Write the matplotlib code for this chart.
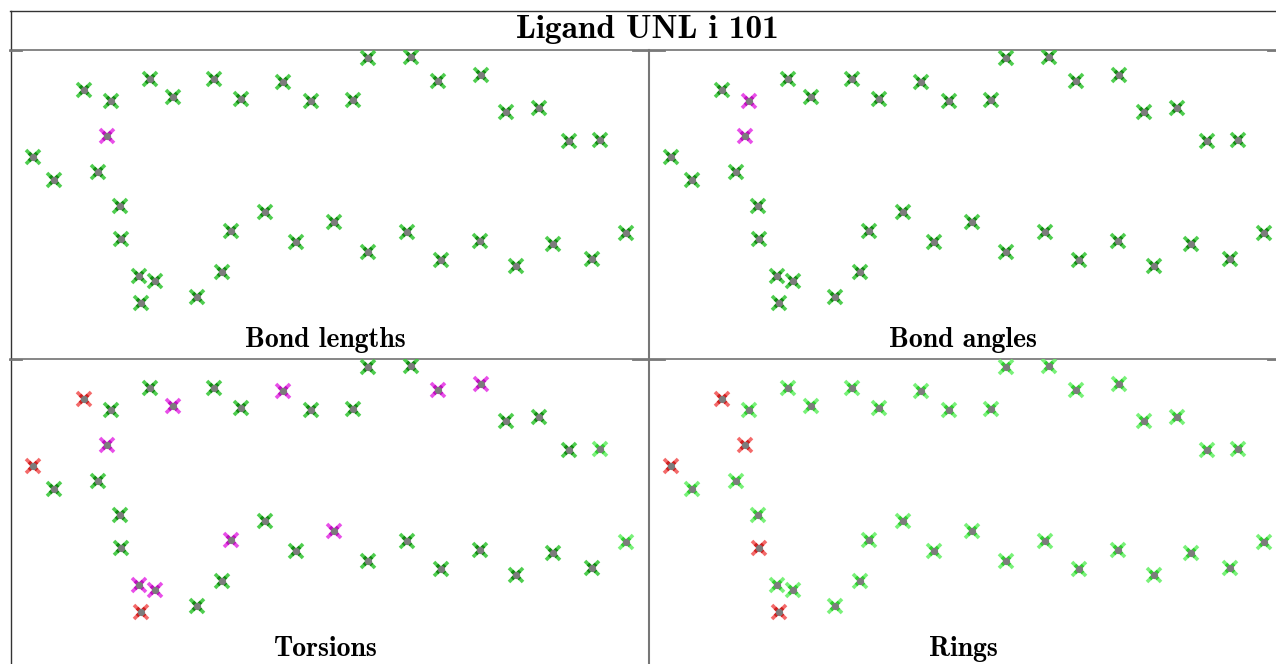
"""
Ligand UNL i 101: per-atom validation flags drawn on the 2D depiction,
one panel per geometry criterion.
"""

import matplotlib
matplotlib.use("Agg")
import matplotlib.pyplot as plt

W, H = 1276, 664

# 2D depiction coordinates of the 40 atoms (panel units, y downwards)
atom_x = [23, 44, 74, 88, 97, 101, 110, 111, 129, 131,
          140, 145, 163, 187, 204, 212, 221, 231, 255, 273,
          286, 301, 324, 343, 358, 358, 397, 401, 428, 431,
          470, 471, 496, 506, 529, 543, 559, 582, 590, 616]
atom_y = [107, 130, 40, 122, 86, 51, 156, 189, 226, 253,
          29, 231, 47, 247, 29, 222, 181, 49, 162, 32,
          192, 51, 172, 50, 8, 202, 182, 7, 31, 210,
          191, 25, 62, 216, 58, 194, 91, 209, 90, 183]

# flag per atom: g = fine, l = fine (light), m = outlier, r = severe outlier
flags_bond_lengths = list("ggggmggggg" "gggggggggg" "gggggggggg" "gggggggggg")
flags_bond_angles = list("ggggmmgggg" "gggggggggg" "gggggggggg" "gggggggggg")
flags_torsions = list("rgrgmgggmr" "gmmgggmggm" "ggmgggggmg" "gmggggggll")
flags_rings = list("rlrlrllrlr" "llllllllll" "llllllllll" "llllllllll")

panel_titles = ["Bond lengths", "Bond angles", "Torsions", "Rings"]
panel_flags = [flags_bond_lengths, flags_bond_angles, flags_torsions, flags_rings]

outer_col = {"g": "#3cc83c", "l": "#6af06a", "m": "#e63ce6", "r": "#f25a5a"}
inner_col = {"g": "#128c12", "l": "#2ed02e", "m": "#c010c0", "r": "#d02020"}

FONT = "cmb10"

fig = plt.figure(figsize=(W / 100, H / 100), dpi=100)
frame = fig.add_axes([0, 0, 1, 1])
frame.set_xlim(0, W)
frame.set_ylim(H, 0)
frame.axis("off")

# table frame
frame.plot([10, W], [11, 11], color="#333333", lw=1.0)
frame.plot([10.5, 10.5], [11, H], color="#333333", lw=1.0)
frame.plot([10, W], [50, 50], color="#666666", lw=1.1)
frame.plot([10, W], [359, 359], color="#666666", lw=1.1)
frame.plot([649, 649], [50, H], color="#777777", lw=1.5)
for y in (51, 360):
    for x0, x1 in ((10, 22), (633, 665), (1268, W)):
        frame.plot([x0, x1], [y, y], color="#777777", lw=1.3)

frame.text(647, 38, "Ligand UNL i 101", family=FONT, fontsize=24,
           ha="center", va="baseline", color="black")

panel_w, panel_h = 638, 309
origins = [(10, 50), (648, 50), (10, 359), (648, 359)]

for (ox, oy), title, flags in zip(origins, panel_titles, panel_flags):
    ax = fig.add_axes([ox / W, 1 - (oy + panel_h) / H, panel_w / W, panel_h / H])
    ax.set_xlim(0, panel_w)
    ax.set_ylim(panel_h, 0)
    ax.axis("off")
    ax.patch.set_alpha(0)
    for x, y, f in zip(atom_x, atom_y, flags):
        ax.plot(x, y, marker="x", ms=9.5, mew=2.6, color=outer_col[f], alpha=0.9)
        ax.plot(x, y, marker="x", ms=5.5, mew=2.6, color=inner_col[f])
        ax.plot(x, y, marker="o", ms=5.2, mew=0, color="#7c7c7c")
    ax.text(panel_w / 2 - 4, panel_h - 12, title, family=FONT, fontsize=20,
            ha="center", va="baseline", color="black")

fig.savefig("out.png", dpi=100)
